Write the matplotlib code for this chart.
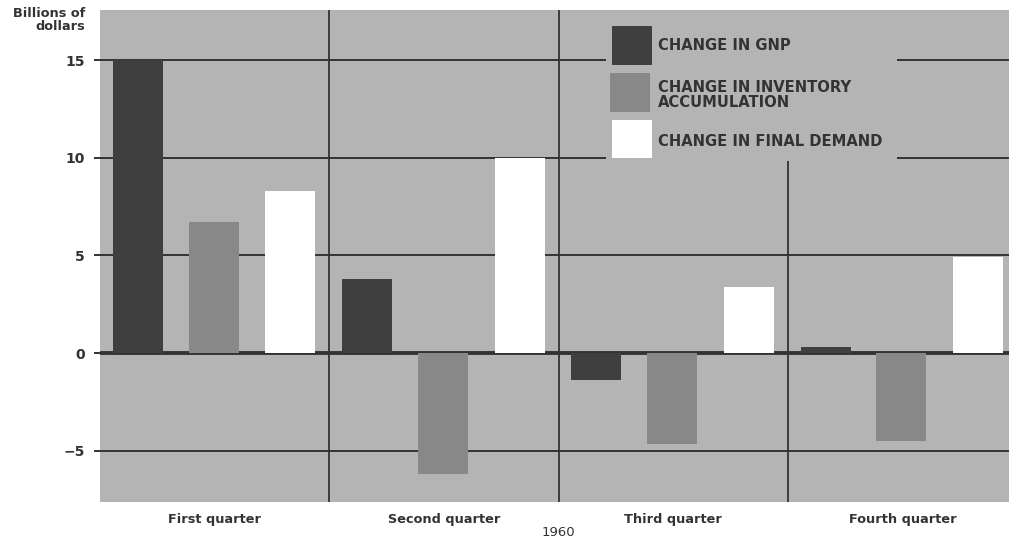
import matplotlib
matplotlib.use("Agg")
import matplotlib.pyplot as plt
from matplotlib.patches import Rectangle
import numpy as np

quarters = ["First quarter", "Second quarter", "Third quarter", "Fourth quarter"]
gnp = [15.0, 3.8, -1.4, 0.3]
inventory = [6.7, -6.2, -4.65, -4.5]
final_demand = [8.3, 10.0, 3.4, 4.9]
series_labels = ["CHANGE IN GNP", "CHANGE IN INVENTORY\nACCUMULATION", "CHANGE IN FINAL DEMAND"]
yticks = [-5, 0, 5, 10, 15]
ytick_labels = ["\u22125", "0", "5", "10", "15"]
year_label = "1960"

panel = "#b4b4b4"
dark = "#3f3f3f"
mid = "#888888"
white = "#ffffff"
line_c = "#333333"
text_c = "#333333"

W, H = 1009, 541
AX_L, AX_T, AX_W, AX_H = 100, 10, 909, 492

fig = plt.figure(figsize=(W/100, H/100), dpi=100)
fig.patch.set_facecolor("white")
ax = fig.add_axes([AX_L/W, 1-(AX_T+AX_H)/H, AX_W/W, AX_H/H])
ax.set_facecolor(panel)

def fx(px):
    return (px - AX_L) / AX_W

def fy(py):
    return (AX_T + AX_H - py) / AX_H

x0 = np.arange(len(quarters))
offsets = [0.165, 0.495, 0.83]
w = 0.218
cols = [dark, mid, white]
for s, (vals, c) in enumerate(zip([gnp, inventory, final_demand], cols)):
    ax.bar(x0 + offsets[s], vals, width=w, color=c, zorder=3, linewidth=0)

# gridlines
for yv in [15, 10, 5, -5]:
    ax.axhline(yv, color=line_c, lw=1.4, zorder=1)
ax.axhline(0, color=line_c, lw=2.8, zorder=2.5)
for xv in [1, 2, 3]:
    ax.axvline(xv, color=line_c, lw=1.3, zorder=1)

ax.set_xlim(0, 3.964)
ax.set_ylim(-7.62, 17.56)
for sp in ax.spines.values():
    sp.set_visible(False)

ax.set_yticks(yticks)
ax.set_yticklabels(ytick_labels, fontsize=10, fontweight="bold", color=text_c)
ax.tick_params(axis="y", length=4, width=1.4, color=line_c, pad=7)
ax.set_xticks(x0 + 0.5)
ax.set_xticklabels(quarters, fontsize=9.3, fontweight="bold", color=text_c)
ax.tick_params(axis="x", length=0, pad=8)

ax.text(fx(85), fy(7), "Billions of\ndollars", transform=ax.transAxes, ha="right", va="top",
        fontsize=9.3, fontweight="bold", color=text_c, linespacing=1.05)
ax.text(2.0, fy(526), year_label, transform=ax.get_xaxis_transform(), ha="center", va="top",
        fontsize=9.5, color=text_c)

# legend drawn manually (large square keys on panel-coloured background)
ax.add_patch(Rectangle((fx(606), fy(161)), fx(897) - fx(606), fy(10) - fy(161),
                       transform=ax.transAxes, facecolor=panel, edgecolor="none", zorder=4))
key_boxes = [(612, 26, 652, 65), (610, 73, 650, 112), (612, 120, 652, 158)]
text_y = [46, 95, 141]
for (x1, y1, x2, y2), c, lab, ty in zip(key_boxes, cols, series_labels, text_y):
    ax.add_patch(Rectangle((fx(x1), fy(y2)), fx(x2) - fx(x1), fy(y1) - fy(y2),
                           transform=ax.transAxes, facecolor=c, edgecolor="none", zorder=5))
    ax.text(fx(658), fy(ty), lab, transform=ax.transAxes, ha="left", va="center",
            fontsize=10.6, fontweight="heavy", color=text_c, linespacing=0.92, zorder=6)

fig.savefig("out.png", dpi=100)
